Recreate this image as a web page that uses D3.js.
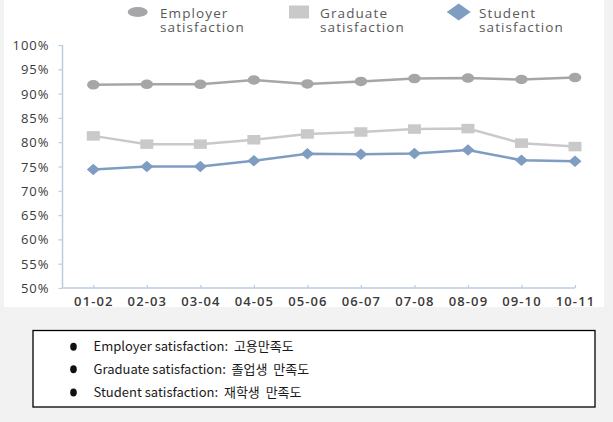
<!DOCTYPE html>
<html>
<head>
<meta charset="utf-8">
<script src="https://cdn.jsdelivr.net/npm/d3@7"></script>
<style>
  html, body { margin: 0; padding: 0; background: #f2f2f2; }
  svg { display: block; }
</style>
</head>
<body>
<svg id="chart" width="613" height="422"></svg>
<script>
const categories = ["01-02","02-03","03-04","04-05","05-06","06-07","07-08","08-09","09-10","10-11"];
const employer = [91.8, 91.9, 91.9, 92.8, 92.0, 92.5, 93.1, 93.2, 92.9, 93.3];
const graduate = [81.3, 79.6, 79.6, 80.5, 81.7, 82.1, 82.7, 82.8, 79.8, 79.1];
const student  = [74.4, 75.0, 75.0, 76.2, 77.6, 77.5, 77.7, 78.4, 76.3, 76.1];
const yTicks = [50, 55, 60, 65, 70, 75, 80, 85, 90, 95, 100];
const seriesNames = ["Employer satisfaction", "Graduate satisfaction", "Student satisfaction"];
const noteLines = ["Employer satisfaction:  고용만족도", "Graduate satisfaction:  졸업생  만족도", "Student satisfaction:  재학생  만족도"];

const svg = d3.select("#chart");
const font = "'Open Sans', 'Noto Sans', sans-serif";

// white chart panel
svg.append("rect").attr("x", 4).attr("y", 0).attr("width", 600).attr("height", 307).attr("fill", "#ffffff");

const x = d3.scalePoint().domain(categories).range([93.3, 575]);
const y = d3.scaleLinear().domain([50, 100]).range([288, 45]);
const axisColor = "#bccbdf";

// Y axis
const yAxis = svg.append("g").attr("transform", "translate(62.5,0)")
  .call(d3.axisLeft(y).tickValues(yTicks).tickSize(4).tickPadding(9).tickFormat(d => d + "%"));
yAxis.select(".domain").attr("stroke", axisColor).attr("stroke-width", 1.5).attr("d", `M0,${y(100)}V${y(50)}`);
yAxis.selectAll(".tick line").attr("stroke", axisColor).attr("stroke-width", 1.2);
yAxis.selectAll(".tick text").attr("font-family", font).attr("font-size", 13)
  .attr("fill", "#3a3a3a").attr("letter-spacing", "1px").attr("dy", "0.35em");

// X axis
const xAxis = svg.append("g").attr("transform", `translate(0,${y(50)})`)
  .call(d3.axisBottom(x).tickSize(-3).tickPadding(9));
xAxis.select(".domain").attr("stroke", axisColor).attr("stroke-width", 1.5).attr("d", `M62.5,0H575`);
xAxis.selectAll(".tick line").attr("stroke", axisColor).attr("stroke-width", 1.2);
xAxis.selectAll(".tick text").attr("font-family", font).attr("font-size", 13)
  .attr("font-weight", 600).attr("fill", "#3a3a3a").attr("letter-spacing", "1.1px").attr("dy", "0.72em");

const line = d3.line().x((d, i) => x(categories[i])).y(d => y(d));

const defs = [
  { name: seriesNames[0], values: employer, color: "#a6a6a8", shape: "circle" },
  { name: seriesNames[1], values: graduate, color: "#c9c9c9", shape: "square" },
  { name: seriesNames[2], values: student,  color: "#7f9cc1", shape: "diamond" }
];

function drawMarker(g, shape, cx, cy, color, w, h) {
  if (shape === "circle") {
    g.append("ellipse").attr("cx", cx).attr("cy", cy).attr("rx", w / 2).attr("ry", h / 2).attr("fill", color);
  } else if (shape === "square") {
    g.append("rect").attr("x", cx - w / 2).attr("y", cy - h / 2).attr("width", w).attr("height", h).attr("fill", color);
  } else {
    g.append("path").attr("d", `M${cx},${cy - h / 2}L${cx + w / 2},${cy}L${cx},${cy + h / 2}L${cx - w / 2},${cy}Z`).attr("fill", color);
  }
}

const markerSize = { circle: [12.5, 9.5], square: [13, 9.5], diamond: [13, 11.5] };

defs.forEach(s => {
  svg.append("path").datum(s.values).attr("d", line).attr("fill", "none")
    .attr("stroke", s.color).attr("stroke-width", 2.5);
  const g = svg.append("g");
  s.values.forEach((v, i) => {
    drawMarker(g, s.shape, x(categories[i]), y(v), s.color, markerSize[s.shape][0], markerSize[s.shape][1]);
  });
});

// Top legend
const legendPos = [
  { mx: 137.7, tx: 160, size: [20, 10] },
  { mx: 299, tx: 320, size: [20, 13] },
  { mx: 458.7, tx: 479, size: [24, 17] }
];
defs.forEach((s, i) => {
  const p = legendPos[i];
  const g = svg.append("g");
  drawMarker(g, s.shape, p.mx, 12, s.color, p.size[0], p.size[1]);
  const words = s.name.split(" ");
  words.forEach((w, k) => {
    g.append("text").attr("x", p.tx).attr("y", 17.5 + k * 14).attr("font-family", font)
      .attr("font-size", 13.5).attr("fill", "#595959").attr("letter-spacing", "1.1px").text(w);
  });
});

// Note box
svg.append("rect").attr("x", 33).attr("y", 330.5).attr("width", 562).attr("height", 76.5)
  .attr("fill", "#ffffff").attr("stroke", "#000000").attr("stroke-width", 1.3);
const noteY = [346.7, 369.3, 392.5];
noteLines.forEach((txt, i) => {
  svg.append("ellipse").attr("cx", 73.5).attr("cy", noteY[i]).attr("rx", 3.3).attr("ry", 4).attr("fill", "#111");
  svg.append("text").attr("x", 93.5).attr("y", noteY[i]).attr("dy", "0.36em")
    .attr("font-family", "'Noto Sans CJK KR', 'Noto Sans', sans-serif").attr("font-size", 13)
    .attr("fill", "#1a1a1a").attr("xml:space", "preserve").style("white-space", "pre").text(txt);
});
</script>
</body>
</html>
